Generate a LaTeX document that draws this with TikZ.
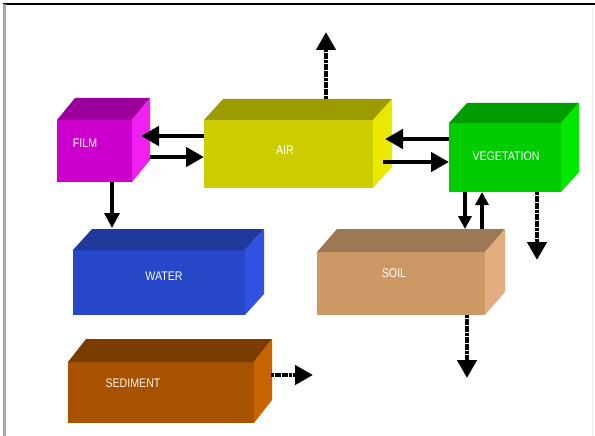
\documentclass[tikz,border=0pt]{standalone}
\usepackage{fontspec}
\newfontfamily\labfont[FakeStretch=0.85]{Liberation Sans}
\usetikzlibrary{arrows.meta,calc}
\definecolor{filmF}{HTML}{CC00CC}\definecolor{filmT}{HTML}{9C009C}\definecolor{filmS}{HTML}{F020F0}
\definecolor{airF}{HTML}{CCCC00}\definecolor{airT}{HTML}{9C9C00}\definecolor{airS}{HTML}{E8E800}
\definecolor{vegF}{HTML}{00CC00}\definecolor{vegT}{HTML}{009C00}\definecolor{vegS}{HTML}{00E800}
\definecolor{watF}{HTML}{2547C8}\definecolor{watT}{HTML}{1F3A9A}\definecolor{watS}{HTML}{3052E2}
\definecolor{soiF}{HTML}{CC9966}\definecolor{soiT}{HTML}{9E7856}\definecolor{soiS}{HTML}{E2AE80}
\definecolor{sedF}{HTML}{A65200}\definecolor{sedT}{HTML}{7A3C00}\definecolor{sedS}{HTML}{C86400}
\newcommand\cubefaces[5]{%
  \fill[#2] (#1.north west) -- ++(#4,#5) -- ([shift={(#4,#5)}]#1.north east) -- (#1.north east) -- cycle;
  \fill[#3] (#1.north east) -- ++(#4,#5) -- ([shift={(#4,#5)}]#1.south east) -- (#1.south east) -- cycle;
}
\begin{document}
\begin{tikzpicture}[x=1pt,y=-1pt,
  box/.style={rectangle,inner sep=0pt,outer sep=0pt,anchor=north west},
  lbl/.style={text=white,font=\labfont\fontsize{12.5}{14}\selectfont,inner sep=0pt},
  flow/.style={line width=4.5pt,-{Triangle[length=18pt,width=19pt]}},
  thinflow/.style={line width=3.2pt,-{Triangle[length=15pt,width=15pt]}},
  pairflow/.style={line width=3.2pt,-{Triangle[length=13pt,width=13pt]}},
  dashflow/.style={flow,dash pattern=on 3pt off 0.6pt}]
\useasboundingbox (0,0) rectangle (595,436);
\fill[white] (0,0) rectangle (595,436);
% frame
\draw[black,line width=1.5pt] (3,4) -- (595,4);
\draw[gray!70,line width=3pt] (4.5,4) -- (4.5,436);
\draw[gray!15,line width=1pt] (592,6) -- (592,436);
% boxes
\node[box,fill=filmF,minimum width=75pt,minimum height=62pt] (film) at (57,120) {};
\cubefaces{film}{filmT}{filmS}{18pt}{22pt}
\node[box,fill=airF,minimum width=169pt,minimum height=68pt] (air) at (204,120) {};
\cubefaces{air}{airT}{airS}{19pt}{21pt}
\node[box,fill=vegF,minimum width=112pt,minimum height=69pt] (veg) at (449,123) {};
\cubefaces{veg}{vegT}{vegS}{18pt}{20pt}
\node[box,fill=watF,minimum width=172pt,minimum height=65pt] (water) at (73,250) {};
\cubefaces{water}{watT}{watS}{19pt}{21pt}
\node[box,fill=soiF,minimum width=168pt,minimum height=63pt] (soil) at (317,252) {};
\cubefaces{soil}{soiT}{soiS}{20pt}{23pt}
\node[box,fill=sedF,minimum width=186pt,minimum height=61pt] (sed) at (68,362) {};
\cubefaces{sed}{sedT}{sedS}{18pt}{23pt}
% labels
\node[lbl] (filmL) at (85,143) {FILM};
\node[lbl] (airL) at (285,150) {AIR};
\node[lbl] (vegL) at (506,156) {VEGETATION};
\node[lbl] (watL) at (164,276) {WATER};
\node[lbl] (soiL) at (394,273) {SOIL};
\node[lbl,text=white!90!orange] (sedL) at (133,383) {SEDIMENT};
% free ends
\coordinate (airUp) at (326,32);
\coordinate (vegOut) at (537,260);
\coordinate (soilOut) at (467,378);
\coordinate (sedOut) at (313,375);
% arrows
\draw[dashflow] ([xshift=37.5pt,yshift=21pt]air.north) -- (airUp);
\draw[flow] ([yshift=18pt]air.west) -- ([xshift=9pt,yshift=15pt]film.east);
\draw[flow] ([xshift=18pt,yshift=-6pt]film.east) -- ([yshift=-3pt]air.west);
\draw[flow] ([yshift=18.5pt]veg.west) -- ([xshift=12pt,yshift=15pt]air.east);
\draw[flow] ([xshift=10pt,yshift=-8pt]air.east) -- ([yshift=-4.5pt]veg.west);
\draw[thinflow] ([xshift=17.5pt]film.south) -- ([xshift=-47pt,yshift=22pt]water.north);
\draw[pairflow] ([xshift=-40pt]veg.south) -- ([xshift=64pt,yshift=23pt]soil.north);
\draw[pairflow] ([xshift=81pt,yshift=23pt]soil.north) -- ([xshift=-23pt]veg.south);
\draw[dashflow] ([xshift=32pt]veg.south) -- (vegOut);
\draw[dashflow] ([xshift=66pt]soil.south) -- (soilOut);
\draw[dashflow] ([xshift=17pt,yshift=17.5pt]sed.east) -- (sedOut);
\end{tikzpicture}
\end{document}
